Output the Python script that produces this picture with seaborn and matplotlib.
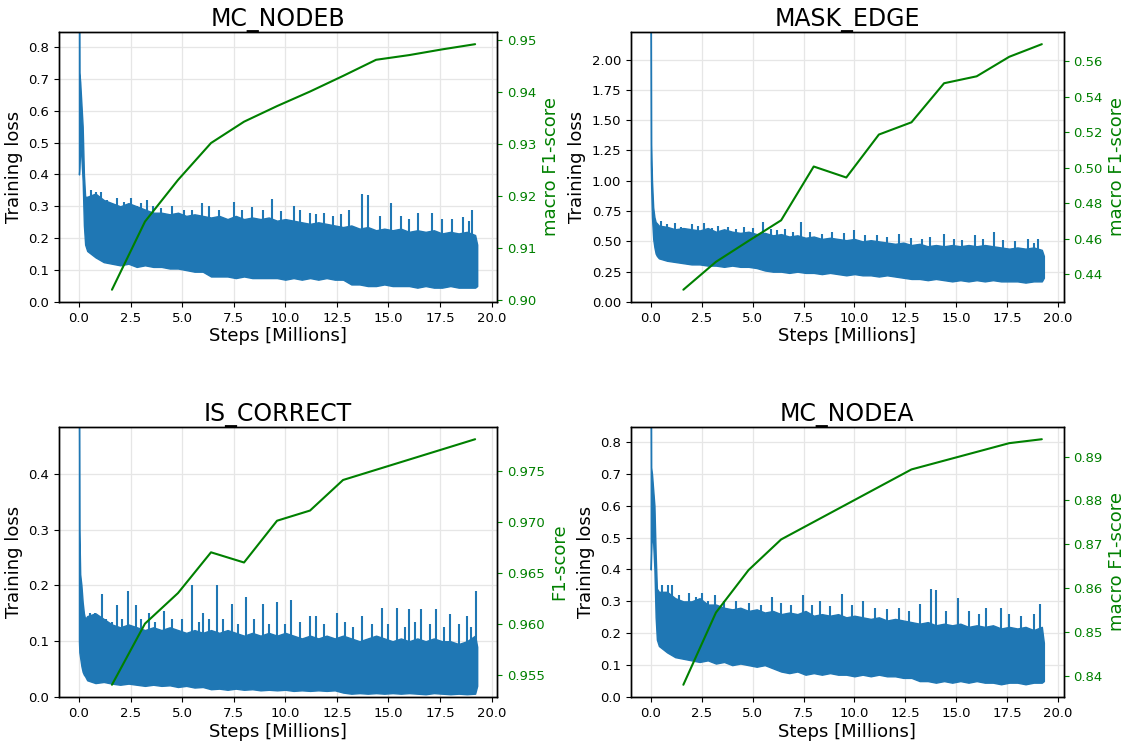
import numpy as np
import matplotlib
matplotlib.use("Agg")
from matplotlib import pyplot as plt
from matplotlib.ticker import MultipleLocator, FormatStrFormatter
import seaborn as sns

# steps (millions) where the loss band is sampled
band_steps = [0.0, 0.02, 0.06, 0.12, 0.18, 0.24, 0.30] + [round(0.4 * k, 1) for k in range(1, 49)] + [19.3]
eval_steps = [1.6, 3.2, 4.8, 6.4, 8.0, 9.6, 11.2, 12.8, 14.4, 16.0, 17.6, 19.2]

# MC_NODEB
nodeb_hi = [1.20, 0.72, 0.69, 0.62, 0.55, 0.40, 0.33,
            0.33, 0.34, 0.32, 0.31, 0.30, 0.31, 0.30, 0.29, 0.28, 0.28,
            0.275, 0.28, 0.27, 0.275, 0.27, 0.265, 0.27, 0.26, 0.27, 0.26,
            0.265, 0.26, 0.265, 0.255, 0.26, 0.255, 0.25, 0.245, 0.25, 0.245,
            0.24, 0.235, 0.24, 0.23, 0.235, 0.225, 0.23, 0.225, 0.23, 0.22,
            0.225, 0.22, 0.225, 0.215, 0.22, 0.215, 0.22, 0.21,
            0.18]
nodeb_lo = [0.40, 0.42, 0.50, 0.45, 0.38, 0.24, 0.18,
            0.16, 0.14, 0.125, 0.12, 0.115, 0.12, 0.11, 0.115, 0.11, 0.11,
            0.105, 0.105, 0.10, 0.095, 0.095, 0.08, 0.08, 0.08, 0.075, 0.08,
            0.075, 0.075, 0.075, 0.075, 0.07, 0.075, 0.07, 0.075, 0.07, 0.075,
            0.07, 0.07, 0.055, 0.055, 0.05, 0.05, 0.055, 0.05, 0.05, 0.05,
            0.045, 0.05, 0.045, 0.045, 0.05, 0.045, 0.045, 0.045,
            0.05]
nodeb_spike_x = [0.6, 0.85, 1.05, 1.35, 1.85, 2.5, 3.0, 3.3, 5.1, 5.95, 7.5, 8.4,
                 9.35, 10.4, 10.7, 11.9, 13.1, 13.7, 14.0, 15.1, 16.45, 17.1, 18.6, 19.05,
                 0.7, 1.6, 2.2, 2.8, 3.6, 4.0, 4.5, 5.5, 6.3, 6.8, 7.9, 8.9,
                 9.8, 11.2, 11.5, 12.3, 12.7, 14.6, 15.6, 16.0, 17.6, 18.1, 18.9]
nodeb_spike_y = [0.35, 0.345, 0.345, 0.32, 0.325, 0.327, 0.31, 0.32, 0.29, 0.312, 0.315, 0.297,
                 0.323, 0.30, 0.29, 0.28, 0.29, 0.34, 0.335, 0.31, 0.28, 0.278, 0.267, 0.29,
                 0.33, 0.31, 0.315, 0.30, 0.30, 0.295, 0.30, 0.29, 0.30, 0.29, 0.29, 0.29,
                 0.285, 0.28, 0.275, 0.27, 0.275, 0.27, 0.27, 0.26, 0.26, 0.26, 0.255]
nodeb_f1 = [0.9019, 0.915, 0.923, 0.9301, 0.9342, 0.9372, 0.9400, 0.9430, 0.9461, 0.9470, 0.9481, 0.9491]

# MASK_EDGE
edge_hi = [2.60, 1.30, 1.00, 0.78, 0.70, 0.66, 0.65,
           0.63, 0.62, 0.60, 0.61, 0.60, 0.59, 0.61, 0.58, 0.60, 0.58,
           0.57, 0.58, 0.56, 0.57, 0.55, 0.56, 0.54, 0.55, 0.53, 0.54,
           0.52, 0.53, 0.52, 0.51, 0.52, 0.50, 0.51, 0.50, 0.49, 0.48,
           0.49, 0.47, 0.48, 0.46, 0.47, 0.46, 0.47, 0.46, 0.47, 0.46,
           0.47, 0.46, 0.45, 0.44, 0.45, 0.44, 0.45, 0.43,
           0.38]
edge_lo = [1.15, 0.95, 0.70, 0.52, 0.45, 0.40, 0.38,
           0.36, 0.34, 0.33, 0.32, 0.31, 0.31, 0.30, 0.30, 0.29, 0.30,
           0.29, 0.29, 0.28, 0.26, 0.25, 0.25, 0.24, 0.25, 0.24, 0.24,
           0.23, 0.24, 0.23, 0.22, 0.23, 0.22, 0.22, 0.21, 0.22, 0.21,
           0.20, 0.19, 0.19, 0.18, 0.19, 0.18, 0.17, 0.18, 0.17, 0.18,
           0.17, 0.18, 0.17, 0.17, 0.17, 0.16, 0.17, 0.17,
           0.20]
edge_spike_x = [0.5, 1.2, 2.0, 2.6, 3.3, 4.6, 5.5, 6.6, 7.4, 8.9, 9.5, 10.0,
                11.1, 12.2, 13.7, 14.4, 15.9, 16.85, 18.5, 19.0,
                0.8, 1.5, 2.3, 3.0, 3.8, 4.2, 5.0, 5.9, 6.2, 7.0, 7.8, 8.4,
                10.5, 11.6, 12.8, 13.3, 14.9, 15.3, 16.3, 17.3, 17.9, 18.8]
edge_spike_y = [0.67, 0.65, 0.64, 0.65, 0.63, 0.62, 0.66, 0.60, 0.66, 0.58, 0.57, 0.59,
                0.55, 0.56, 0.54, 0.56, 0.55, 0.58, 0.52, 0.52,
                0.64, 0.62, 0.63, 0.61, 0.62, 0.60, 0.61, 0.60, 0.59, 0.58, 0.58, 0.56,
                0.55, 0.54, 0.53, 0.52, 0.52, 0.51, 0.52, 0.51, 0.50, 0.49]
edge_f1 = [0.4312, 0.4469, 0.4587, 0.4703, 0.5006, 0.4944, 0.5186, 0.5255, 0.5475, 0.5514, 0.5624, 0.5695]

# IS_CORRECT
corr_hi = [0.60, 0.30, 0.22, 0.20, 0.17, 0.15, 0.14,
           0.145, 0.15, 0.14, 0.13, 0.125, 0.13, 0.125, 0.12, 0.125, 0.12,
           0.125, 0.12, 0.115, 0.12, 0.115, 0.12, 0.115, 0.12, 0.115, 0.11,
           0.115, 0.11, 0.115, 0.11, 0.115, 0.11, 0.105, 0.11, 0.105, 0.11,
           0.105, 0.11, 0.105, 0.10, 0.105, 0.11, 0.105, 0.10, 0.105, 0.10,
           0.105, 0.10, 0.105, 0.10, 0.10, 0.095, 0.10, 0.11,
           0.09]
corr_lo = [0.10, 0.08, 0.07, 0.055, 0.045, 0.04, 0.037,
           0.03, 0.025, 0.027, 0.024, 0.022, 0.024, 0.022, 0.02, 0.022, 0.02,
           0.021, 0.018, 0.02, 0.017, 0.018, 0.014, 0.015, 0.013, 0.015, 0.013,
           0.014, 0.012, 0.013, 0.012, 0.013, 0.011, 0.012, 0.011, 0.012, 0.011,
           0.012, 0.008, 0.006, 0.007, 0.006, 0.007, 0.006, 0.007, 0.006, 0.007,
           0.006, 0.005, 0.007, 0.006, 0.005, 0.006, 0.005, 0.006,
           0.02]
corr_spike_x = [0.55, 0.8, 1.1, 1.85, 2.4, 2.75, 3.4, 4.1, 5.5, 6.0, 6.7, 7.4, 8.1, 8.9,
                9.6, 10.3, 11.2, 11.5, 12.5, 13.7, 14.7, 15.4, 16.0, 16.6, 17.3, 18.0, 18.8, 19.25,
                0.65, 1.3, 1.6, 2.1, 3.0, 3.7, 4.5, 5.0, 5.8, 6.3, 7.0, 7.7, 8.5, 9.2,
                10.0, 10.7, 11.9, 12.9, 13.3, 14.2, 15.0, 15.8, 16.3, 17.0, 17.7, 18.4, 19.0]
corr_spike_y = [0.15, 0.15, 0.185, 0.165, 0.19, 0.165, 0.15, 0.155, 0.20, 0.15, 0.20, 0.167, 0.18, 0.167,
                0.17, 0.173, 0.146, 0.145, 0.15, 0.145, 0.16, 0.16, 0.157, 0.157, 0.157, 0.148, 0.145, 0.19,
                0.14, 0.14, 0.135, 0.14, 0.14, 0.135, 0.14, 0.14, 0.135, 0.14, 0.14, 0.13, 0.14, 0.13,
                0.13, 0.135, 0.13, 0.135, 0.125, 0.13, 0.13, 0.125, 0.135, 0.13, 0.125, 0.13, 0.125]
corr_f1 = [0.9540, 0.9600, 0.9630, 0.9670, 0.9660, 0.9701, 0.9711, 0.9741, 0.9751, 0.9761, 0.9771, 0.9781]

# MC_NODEA
nodea_hi = [1.20, 0.72, 0.70, 0.65, 0.60, 0.45, 0.34,
            0.33, 0.33, 0.31, 0.30, 0.30, 0.31, 0.29, 0.29, 0.28, 0.275,
            0.28, 0.27, 0.275, 0.265, 0.27, 0.26, 0.265, 0.26, 0.27, 0.255,
            0.26, 0.255, 0.26, 0.25, 0.255, 0.25, 0.245, 0.25, 0.24, 0.245,
            0.24, 0.235, 0.23, 0.235, 0.225, 0.23, 0.225, 0.23, 0.22, 0.225,
            0.22, 0.225, 0.215, 0.22, 0.215, 0.22, 0.21, 0.22,
            0.17]
nodea_lo = [0.40, 0.45, 0.52, 0.48, 0.40, 0.25, 0.18,
            0.16, 0.14, 0.125, 0.12, 0.115, 0.11, 0.115, 0.105, 0.11, 0.10,
            0.105, 0.10, 0.095, 0.10, 0.09, 0.08, 0.075, 0.08, 0.07, 0.075,
            0.07, 0.075, 0.07, 0.07, 0.065, 0.07, 0.065, 0.07, 0.065, 0.065,
            0.06, 0.06, 0.05, 0.05, 0.045, 0.05, 0.045, 0.05, 0.045, 0.05,
            0.045, 0.045, 0.04, 0.045, 0.045, 0.04, 0.045, 0.045,
            0.05]
nodea_spike_x = [0.57, 0.83, 1.02, 1.86, 2.5, 3.16, 5.95, 7.45, 8.3, 9.4, 10.4,
                 13.2, 13.76, 14.0, 15.1, 16.45, 17.2, 19.1,
                 0.7, 1.4, 2.2, 2.8, 3.6, 4.2, 4.8, 5.4, 6.4, 6.9, 7.9, 8.8,
                 9.9, 11.0, 11.6, 12.2, 12.7, 14.5, 15.6, 16.1, 17.6, 18.2, 18.8]
nodea_spike_y = [0.35, 0.35, 0.35, 0.325, 0.326, 0.32, 0.314, 0.32, 0.30, 0.322, 0.30,
                 0.293, 0.34, 0.335, 0.31, 0.28, 0.28, 0.293,
                 0.33, 0.32, 0.315, 0.30, 0.30, 0.30, 0.295, 0.29, 0.295, 0.29, 0.29, 0.285,
                 0.29, 0.28, 0.275, 0.28, 0.27, 0.27, 0.27, 0.26, 0.26, 0.255, 0.26]
nodea_f1 = [0.8379, 0.8544, 0.8641, 0.8711, 0.8751, 0.8791, 0.8831, 0.8871, 0.8891, 0.8911, 0.8931, 0.8940]

panels = [
    dict(title="MC_NODEB", hi=nodeb_hi, lo=nodeb_lo, sx=nodeb_spike_x, sy=nodeb_spike_y,
         f1=nodeb_f1, f1_label="macro F1-score", ytop=0.847, ystep=0.1, yfmt="%.1f", base=0.17,
         rect=[0.0523, 0.593, 0.388, 0.364]),
    dict(title="MASK_EDGE", hi=edge_hi, lo=edge_lo, sx=edge_spike_x, sy=edge_spike_y,
         f1=edge_f1, f1_label="macro F1-score", ytop=2.228, ystep=0.25, yfmt="%.2f", base=0.40,
         rect=[0.559, 0.593, 0.383, 0.364]),
    dict(title="IS_CORRECT", hi=corr_hi, lo=corr_lo, sx=corr_spike_x, sy=corr_spike_y,
         f1=corr_f1, f1_label="F1-score", ytop=0.484, ystep=0.1, yfmt="%.1f", base=0.06,
         rect=[0.0523, 0.0606, 0.388, 0.364]),
    dict(title="MC_NODEA", hi=nodea_hi, lo=nodea_lo, sx=nodea_spike_x, sy=nodea_spike_y,
         f1=nodea_f1, f1_label="macro F1-score", ytop=0.847, ystep=0.1, yfmt="%.1f", base=0.17,
         rect=[0.559, 0.0606, 0.383, 0.364]),
]

sns.set_theme(style="ticks", rc={"text.color": "black", "axes.labelcolor": "black",
                                 "xtick.color": "black", "ytick.color": "black"})
plt.rcParams["font.family"] = ["DejaVu Sans"]

blue = "#1f77b4"
green = "green"

fig = plt.figure(figsize=(11.29, 7.42), dpi=100)

for p in panels:
    ax = fig.add_axes(p["rect"])
    ax.fill_between(band_steps, p["lo"], p["hi"], color=blue, lw=1.0, edgecolor=blue, zorder=2)
    ax.vlines(p["sx"], p["base"], p["sy"], color=blue, lw=1.5, zorder=2)
    ax.set_ylim(0, p["ytop"])
    ax.yaxis.set_major_locator(MultipleLocator(p["ystep"]))
    ax.yaxis.set_major_formatter(FormatStrFormatter(p["yfmt"]))
    ax.xaxis.set_major_locator(MultipleLocator(2.5))
    ax.xaxis.set_major_formatter(FormatStrFormatter("%.1f"))
    ax.grid(True, color="#e6e6e6", lw=0.9, zorder=0)
    ax.set_axisbelow(True)
    ax.set_title(p["title"], fontsize=17, pad=4)
    ax.set_xlabel("Steps [Millions]", fontsize=13, labelpad=2)
    ax.set_ylabel("Training loss", fontsize=13, labelpad=4)
    ax.tick_params(labelsize=9.5, length=3.5, width=0.8, color="black")

    ax2 = ax.twinx()
    sns.lineplot(x=eval_steps, y=p["f1"], ax=ax2, color=green, lw=1.5)
    ax2.set_ylabel(p["f1_label"], fontsize=13, color=green, labelpad=4)
    ax2.tick_params(axis="y", labelsize=9.5, colors=green, length=3.5, width=0.8)
    for a in (ax, ax2):
        for s in a.spines.values():
            s.set_color("black")
            s.set_linewidth(1.0)
    ax.set_xlim(-0.965, 20.265)

fig.savefig("out.png", dpi=100)
